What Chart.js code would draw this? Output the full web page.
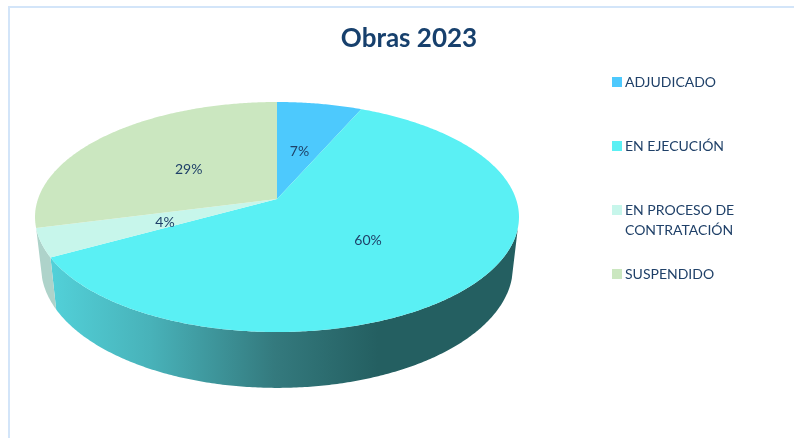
<!DOCTYPE html>
<html>
<head>
<meta charset="utf-8">
<style>
html,body{margin:0;padding:0;background:#fff;overflow:hidden;width:794px;height:438px}
#frame{position:absolute;left:8px;top:6px;width:800px;height:450px;border-left:2px solid #d3e5f9;border-top:2px solid #d3e5f9}
#wrap{position:absolute;left:0;top:0;width:794px;height:438px}
</style>
<script src="https://cdn.jsdelivr.net/npm/chart.js@4"></script>
</head>
<body>
<div id="frame"></div>
<div id="wrap"><canvas id="c" width="794" height="438"></canvas></div>
<script>
const chartTitle = "Obras 2023";
const categories = ["ADJUDICADO", "EN EJECUCIÓN", ["EN PROCESO DE", "CONTRATACIÓN"], "SUSPENDIDO"];
const shares = [6.6, 60.4, 4, 29];
const faceColors = ["#4dc9fd", "#5af0f4", "#c7f6eb", "#cbe7c0"];
const sideColors = ["#2d7a99", null, "#aed3ca", "#9fbd96"];

const TEXT = "#1f4068";
const TOP = {cx:277, cy:199, rx:239, ry:112.2, k:0.1565};
const BASE = {cx:277, cy:248, rx:233, ry:118, k:0.1565};
const WALL_FROM = 104.4 * Math.PI / 180, WALL_TO = 255.6 * Math.PI / 180;

function project(g, phi, r) {
  const u = r * Math.sin(phi), v = r * Math.cos(phi), d = 1 + g.k * v;
  return [g.cx + g.rx * u / d, g.cy - g.ry * v / d];
}
function trace(ctx, g, a, b, first) {
  const n = Math.max(2, Math.ceil(Math.abs(b - a) / 0.01));
  for (let i = 0; i <= n; i++) {
    const p = project(g, a + (b - a) * i / n, 1);
    if (i === 0 && first) ctx.moveTo(p[0], p[1]); else ctx.lineTo(p[0], p[1]);
  }
}

const pie3d = {
  id: "pie3d",
  beforeDatasetsDraw(chart) {
    const ctx = chart.ctx, arcs = chart.getDatasetMeta(0).data;
    const wallGrad = ctx.createLinearGradient(53, 0, 378, 0);
    wallGrad.addColorStop(0, "#52d0d8");
    wallGrad.addColorStop(0.3, "#48b2b9");
    wallGrad.addColorStop(0.68, "#347a7e");
    wallGrad.addColorStop(1, "#245f61");
    ctx.save();
    arcs.forEach((arc, i) => {
      const a = Math.max(arc.startAngle + Math.PI / 2, WALL_FROM);
      const b = Math.min(arc.endAngle + Math.PI / 2, WALL_TO);
      if (b <= a) return;
      ctx.beginPath();
      trace(ctx, TOP, a, b, true);
      trace(ctx, BASE, b, a, false);
      ctx.closePath();
      ctx.fillStyle = sideColors[i] || wallGrad;
      ctx.fill();
    });
    arcs.forEach((arc, i) => {
      const a = arc.startAngle + Math.PI / 2, b = arc.endAngle + Math.PI / 2;
      ctx.beginPath();
      ctx.moveTo(TOP.cx, TOP.cy);
      trace(ctx, TOP, a, b, false);
      ctx.closePath();
      ctx.fillStyle = faceColors[i];
      ctx.fill();
    });
    ctx.fillStyle = TEXT;
    ctx.font = "14px Lato";
    ctx.textAlign = "center";
    ctx.textBaseline = "middle";
    arcs.forEach((arc, i) => {
      const mid = (arc.startAngle + arc.endAngle) / 2 + Math.PI / 2;
      const p = project(TOP, mid, 0.49);
      ctx.fillText(Math.round(shares[i]) + "%", p[0], p[1] + 2.5);
    });
    ctx.restore();
    return false;
  },
  afterDraw(chart) {
    const ctx = chart.ctx;
    const rows = [82, 146, 210, 274];
    ctx.save();
    ctx.font = "14px Lato";
    ctx.textAlign = "left";
    ctx.textBaseline = "middle";
    categories.forEach((cat, i) => {
      ctx.fillStyle = faceColors[i];
      ctx.fillRect(612, rows[i] - 5, 10, 10);
      ctx.fillStyle = TEXT;
      [].concat(cat).forEach((line, j) => ctx.fillText(line, 625, rows[i] + j * 20));
    });
    ctx.restore();
  }
};

new Chart(document.getElementById("c"), {
  type: "pie",
  data: {
    labels: categories,
    datasets: [{data: shares, backgroundColor: faceColors, borderWidth: 0}]
  },
  options: {
    responsive: false,
    animation: false,
    events: [],
    layout: {padding: {left: 24}},
    plugins: {
      legend: {display: false},
      tooltip: {enabled: false},
      title: {
        display: true,
        text: chartTitle,
        color: "#17406d",
        font: {family: "Lato", size: 26, weight: "bold"},
        padding: {top: 23, bottom: 10}
      }
    }
  },
  plugins: [pie3d]
});
</script>
</body>
</html>
